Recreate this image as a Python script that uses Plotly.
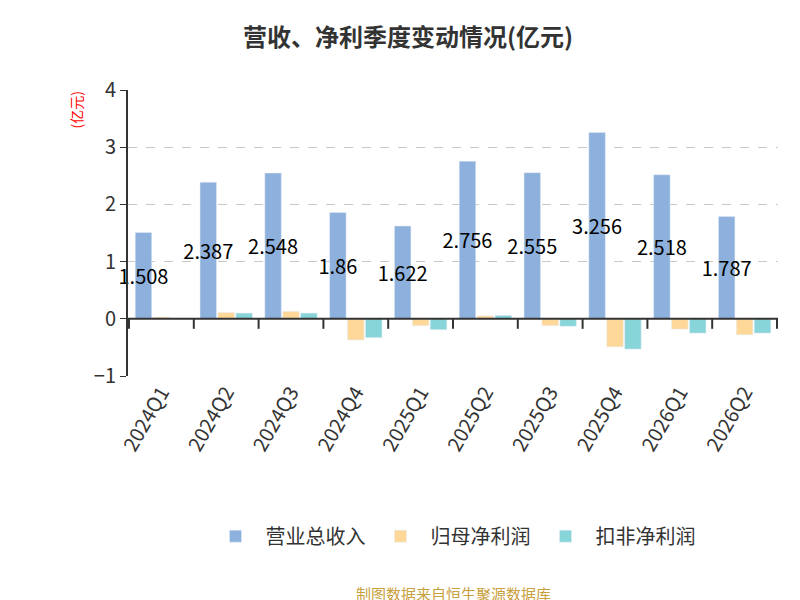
import plotly.graph_objects as go

quarters = ["2024Q1", "2024Q2", "2024Q3", "2024Q4", "2025Q1", "2025Q2",
            "2025Q3", "2025Q4", "2026Q1", "2026Q2"]
revenue = [1.508, 2.387, 2.548, 1.86, 1.622, 2.756, 2.555, 3.256, 2.518, 1.787]
parent_profit = [0.03, 0.11, 0.13, -0.37, -0.12, 0.05, -0.12, -0.49, -0.18, -0.28]
deducted_profit = [0.01, 0.10, 0.10, -0.33, -0.19, 0.06, -0.13, -0.53, -0.25, -0.25]

fig = go.Figure()
fig.add_bar(x=quarters, y=revenue, name="营业总收入", marker_color="#8eb0dc",
            text=[f"{v:g}" for v in revenue], textposition="inside",
            insidetextanchor="middle", constraintext="none", cliponaxis=False,
            textfont=dict(color="black", size=20), textangle=0)
fig.add_bar(x=quarters, y=parent_profit, name="归母净利润", marker_color="#fed898")
fig.add_bar(x=quarters, y=deducted_profit, name="扣非净利润", marker_color="#88d5d9")

shapes = [dict(type="line", xref="paper", yref="y", x0=0, x1=1, y0=0, y1=0,
               line=dict(color="#333", width=2))]
for i in range(len(quarters) + 1):
    shapes.append(dict(type="line", xref="x", yref="paper", x0=i - 0.5, x1=i - 0.5,
                       y0=0.2, y1=0.165, line=dict(color="#333", width=2)))

fig.update_layout(
    width=800, height=600, plot_bgcolor="white", paper_bgcolor="white",
    font=dict(family="Noto Sans CJK SC", color="#333"),
    title=dict(text="<b>营收、净利季度变动情况(亿元)</b>", x=0.5, y=0.965,
               font=dict(size=24, color="#333")),
    margin=dict(l=120, r=30, t=82, b=232, autoexpand=False),
    barmode="group", bargap=0.17, bargroupgap=0.08,
    legend=dict(orientation="h", x=0.5, xanchor="center", y=-0.56, yanchor="middle",
                font=dict(size=20, color="#333"), itemwidth=50),
    shapes=shapes,
    annotations=[
        dict(text="(亿元)", xref="paper", yref="paper", x=-0.1, y=1.0, yanchor="top",
             showarrow=False, textangle=-90, font=dict(color="red", size=14)),
        dict(text="制图数据来自恒生聚源数据库", xref="paper", yref="paper", x=0.5,
             y=-0.76, yanchor="middle", showarrow=False,
             font=dict(color="#c8a03c", size=15)),
    ],
)
fig.update_yaxes(range=[-1, 4], dtick=1, showgrid=True, gridcolor="#c8c8c8",
                 griddash="dash", zeroline=False, showline=True, linecolor="#333",
                 linewidth=2, ticks="outside", ticklen=6, tickcolor="#333",
                 tickfont=dict(size=20))
fig.update_xaxes(tickangle=-60, tickfont=dict(size=20), showline=False)
fig.write_html("out.html")
